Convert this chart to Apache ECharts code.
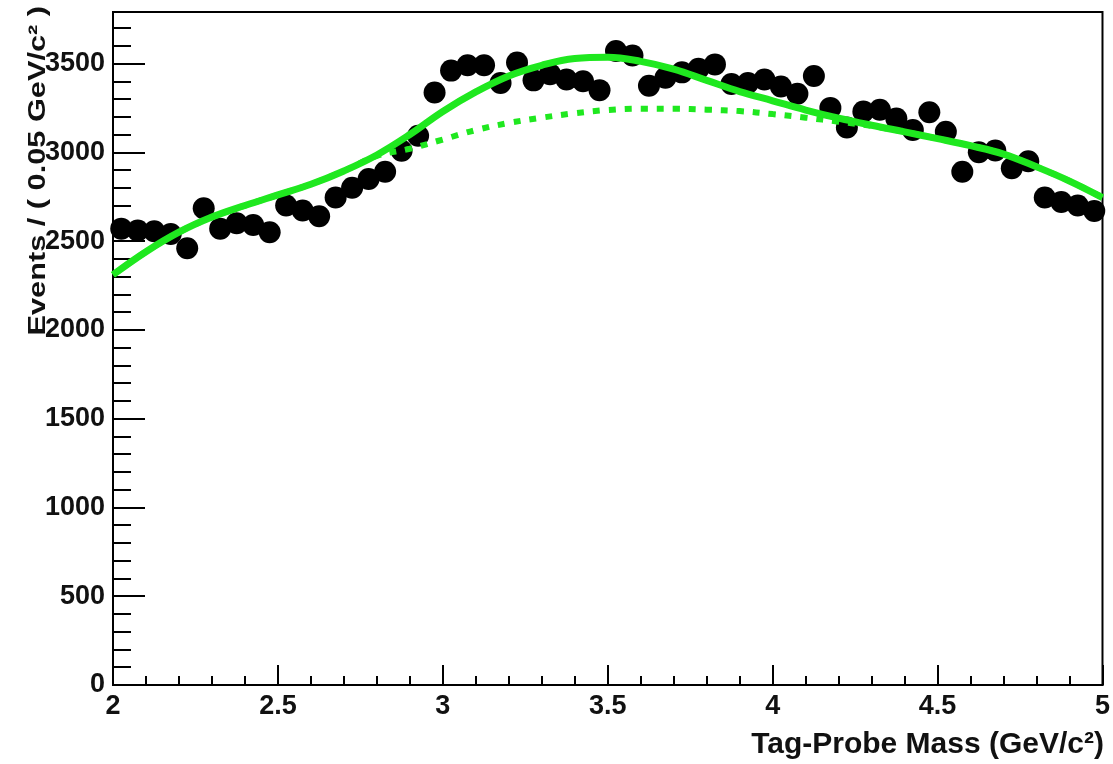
<!DOCTYPE html>
<html>
<head>
<meta charset="utf-8">
<script src="https://cdn.jsdelivr.net/npm/echarts@6/dist/echarts.min.js"></script>
<style>
  html, body { margin: 0; padding: 0; background: #fff; }
  #chart { width: 1113px; height: 764px; }
</style>
</head>
<body>
<div id="chart"></div>
<script>
// ---- Data ----
const binCenters = [
  2.025, 2.075, 2.125, 2.175, 2.225, 2.275, 2.325, 2.375, 2.425, 2.475,
  2.525, 2.575, 2.625, 2.675, 2.725, 2.775, 2.825, 2.875, 2.925, 2.975,
  3.025, 3.075, 3.125, 3.175, 3.225, 3.275, 3.325, 3.375, 3.425, 3.475,
  3.525, 3.575, 3.625, 3.675, 3.725, 3.775, 3.825, 3.875, 3.925, 3.975,
  4.025, 4.075, 4.125, 4.175, 4.225, 4.275, 4.325, 4.375, 4.425, 4.475,
  4.525, 4.575, 4.625, 4.675, 4.725, 4.775, 4.825, 4.875, 4.925, 4.975
];
const eventCounts = [
  2570, 2560, 2555, 2540, 2460, 2685, 2570, 2600, 2590, 2550,
  2700, 2672, 2640, 2745, 2800, 2850, 2890, 3009, 3093, 3337,
  3460, 3490, 3490, 3390, 3505, 3405, 3440, 3410, 3400, 3350,
  3570, 3545, 3375, 3420, 3450, 3470, 3495, 3385, 3390, 3410,
  3370, 3330, 3430, 3250, 3140, 3230, 3240, 3190, 3125, 3225,
  3115, 2890, 3000, 3010, 2910, 2950, 2745, 2720, 2700, 2670
];
const curveX = [
  2.0, 2.1, 2.2, 2.3, 2.4, 2.5, 2.6, 2.7, 2.8, 2.9,
  3.0, 3.1, 3.2, 3.3, 3.4, 3.5, 3.6, 3.7, 3.8, 3.9,
  4.0, 4.1, 4.2, 4.3, 4.4, 4.5, 4.6, 4.7, 4.8, 4.9, 5.0
];
const totalFit = [
  2310, 2440, 2550, 2635, 2700, 2760, 2820, 2895, 2985, 3100,
  3230, 3340, 3430, 3490, 3528, 3535, 3512, 3468, 3405, 3342,
  3290, 3238, 3192, 3152, 3115, 3077, 3037, 2990, 2918, 2838, 2745
];
const backgroundFit = [
  2310, 2440, 2550, 2635, 2700, 2760, 2820, 2895, 2980, 3020,
  3072, 3125, 3165, 3195, 3220, 3238, 3245, 3245, 3240, 3232,
  3215, 3195, 3172, 3148, 3115, 3077, 3037, 2990, 2918, 2838, 2745
];
const xTicks = { min: 2, max: 5, interval: 0.5 };
const yTicks = { min: 0, max: 3790, major: 500, minor: 100 };

const GREEN = '#1fe81f';
const FONT = '"Liberation Sans", Arial, sans-serif';

const chart = echarts.init(document.getElementById('chart'), null, { renderer: 'canvas' });

chart.setOption({
  animation: false,
  backgroundColor: '#ffffff',
  grid: {
    left: 113, right: 5, top: 12, bottom: 79,
    show: true, borderColor: '#000', borderWidth: 2, backgroundColor: 'transparent'
  },
  xAxis: [{
    type: 'value',
    min: xTicks.min, max: xTicks.max, interval: xTicks.interval,
    axisLine: { show: true, onZero: false, lineStyle: { color: '#000', width: 2 } },
    axisTick: { show: true, inside: true, length: 20, lineStyle: { color: '#000', width: 2 } },
    minorTick: { show: true, splitNumber: 5, length: 9, lineStyle: { color: '#000', width: 2 } },
    splitLine: { show: false },
    axisLabel: {
      color: '#111', fontFamily: FONT, fontWeight: 'bold', fontSize: 27, margin: 8,
      formatter: v => String(v)
    }
  }],
  yAxis: [{
    type: 'value', position: 'left',
    min: yTicks.min, max: yTicks.max, interval: yTicks.major,
    axisLine: { show: true, onZero: false, lineStyle: { color: '#000', width: 2 } },
    axisTick: { show: true, inside: true, length: 32, lineStyle: { color: '#000', width: 2 } },
    splitLine: { show: false },
    axisLabel: {
      color: '#111', fontFamily: FONT, fontWeight: 'bold', fontSize: 27, margin: 8,
      showMaxLabel: false,
      formatter: v => String(v)
    }
  }, {
    type: 'value', position: 'left',
    min: yTicks.min, max: yTicks.max, interval: yTicks.minor,
    axisLine: { show: false },
    axisTick: { show: true, inside: true, length: 18, lineStyle: { color: '#000', width: 2 } },
    splitLine: { show: false },
    axisLabel: { show: false }
  }],
  graphic: [{
    type: 'text',
    x: 38, y: 6,
    rotation: Math.PI / 2,
    scaleX: 1.28,
    style: {
      text: 'Events / ( 0.05 GeV/c² )',
      fontFamily: FONT, fontWeight: 'bold', fontSize: 24,
      fill: '#111', align: 'right', verticalAlign: 'middle'
    },
    z: 100
  }, {
    type: 'text',
    x: 1104, y: 745,
    style: {
      text: 'Tag-Probe Mass (GeV/c²)',
      fontFamily: FONT, fontWeight: 'bold', fontSize: 30,
      fill: '#111', align: 'right', verticalAlign: 'middle'
    },
    z: 100
  }],
  series: [{
    type: 'scatter',
    xAxisIndex: 0, yAxisIndex: 0,
    symbol: 'circle', symbolSize: 22,
    itemStyle: { color: '#000', opacity: 1 },
    data: binCenters.map((x, i) => [x, eventCounts[i]]),
    z: 2
  }, {
    type: 'line',
    xAxisIndex: 0, yAxisIndex: 0,
    showSymbol: false, symbol: 'none', smooth: 0.4,
    lineStyle: { color: GREEN, width: 6, type: [7, 9] },
    data: curveX.map((x, i) => [x, backgroundFit[i]]),
    z: 3
  }, {
    type: 'line',
    xAxisIndex: 0, yAxisIndex: 0,
    showSymbol: false, symbol: 'none', smooth: 0.4,
    lineStyle: { color: GREEN, width: 7 },
    data: curveX.map((x, i) => [x, totalFit[i]]),
    z: 4
  }]
});
</script>
</body>
</html>
